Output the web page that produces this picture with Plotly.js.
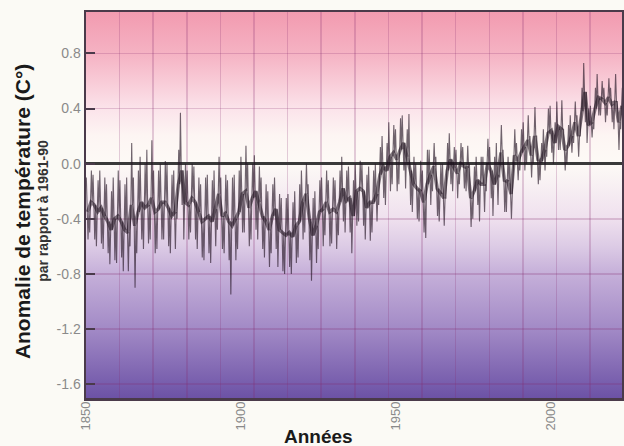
<!DOCTYPE html>
<html><head><meta charset="utf-8">
<script src="https://cdn.plot.ly/plotly-3.0.1.min.js"></script>
<style>body{margin:0;background:#fbfaf5}</style>
</head><body><div id="chart" style="width:624px;height:446px"></div>
<script>
const years = [];
for (let y = 1850; y <= 2009; y++) years.push(y);

// upper spikes per year (°C)
const hi = [
-0.10,-0.05,-0.08,-0.12,-0.05,-0.10,-0.15,-0.20,-0.10,-0.05,
-0.12,-0.15,-0.10,0.15,-0.10,-0.05,0.05,0.00,0.10,0.17,
-0.05,-0.05,0.00,0.02,0.00,-0.08,-0.05,0.10,0.37,0.00,
-0.05,0.00,-0.02,-0.10,-0.15,-0.10,-0.08,-0.12,-0.05,0.05,
-0.10,-0.08,-0.12,-0.10,-0.08,-0.05,0.05,0.13,0.00,0.00,
0.06,-0.02,-0.10,-0.15,-0.20,-0.15,-0.10,-0.22,-0.25,-0.25,
-0.22,-0.28,-0.20,-0.15,-0.05,0.00,-0.15,-0.25,-0.20,-0.12,
-0.10,-0.05,-0.12,-0.10,-0.12,-0.05,0.05,-0.05,-0.02,-0.12,
0.00,0.02,0.00,-0.08,-0.02,-0.05,0.00,0.12,0.20,0.15,
0.30,0.28,0.25,0.33,0.35,0.25,0.36,0.05,0.00,0.02,
-0.05,0.10,0.10,0.15,0.05,0.00,0.00,0.15,0.22,0.12,
0.10,0.15,0.12,0.13,0.00,-0.02,0.05,0.05,0.05,0.18,
0.12,0.05,0.15,0.28,0.10,0.05,0.00,0.25,0.15,0.25,
0.30,0.35,0.20,0.41,0.20,0.15,0.25,0.40,0.42,0.30,
0.45,0.46,0.25,0.28,0.35,0.45,0.35,0.55,0.73,0.40,
0.42,0.55,0.65,0.60,0.55,0.62,0.55,0.65,0.45,0.55];

// lower spikes per year (°C)
const lo = [
-0.55,-0.50,-0.55,-0.60,-0.58,-0.62,-0.65,-0.73,-0.70,-0.72,
-0.68,-0.78,-0.78,-0.60,-0.90,-0.65,-0.55,-0.62,-0.58,-0.55,
-0.65,-0.62,-0.55,-0.55,-0.60,-0.65,-0.62,-0.40,-0.30,-0.55,
-0.55,-0.50,-0.55,-0.62,-0.68,-0.70,-0.65,-0.72,-0.60,-0.48,
-0.62,-0.65,-0.70,-0.95,-0.70,-0.62,-0.50,-0.50,-0.60,-0.55,
-0.48,-0.55,-0.62,-0.68,-0.75,-0.65,-0.62,-0.75,-0.78,-0.80,
-0.75,-0.80,-0.72,-0.68,-0.55,-0.50,-0.70,-0.85,-0.72,-0.62,
-0.60,-0.52,-0.60,-0.58,-0.62,-0.52,-0.42,-0.50,-0.50,-0.65,
-0.45,-0.42,-0.45,-0.55,-0.56,-0.50,-0.42,-0.30,-0.25,-0.30,
-0.20,-0.15,-0.20,-0.15,-0.05,-0.18,-0.30,-0.35,-0.40,-0.42,
-0.50,-0.54,-0.30,-0.20,-0.38,-0.42,-0.45,-0.25,-0.15,-0.20,
-0.25,-0.15,-0.18,-0.20,-0.46,-0.40,-0.30,-0.42,-0.35,-0.20,
-0.25,-0.38,-0.30,-0.10,-0.35,-0.35,-0.40,-0.10,-0.12,-0.05,
-0.05,0.00,-0.10,0.00,-0.15,-0.12,-0.05,0.05,0.08,0.00,
0.10,0.10,-0.05,0.00,0.08,0.15,0.05,0.20,0.30,0.15,
0.19,0.25,0.35,0.35,0.30,0.35,0.30,0.25,0.10,0.25];

// dense core of the monthly curve, per year (°C)
const core = [
-0.35,-0.28,-0.30,-0.35,-0.32,-0.38,-0.42,-0.48,-0.40,-0.38,
-0.42,-0.48,-0.50,-0.30,-0.45,-0.35,-0.28,-0.32,-0.30,-0.25,
-0.35,-0.33,-0.28,-0.28,-0.32,-0.38,-0.35,-0.15,-0.05,-0.28,
-0.30,-0.25,-0.28,-0.35,-0.42,-0.40,-0.38,-0.42,-0.33,-0.22,
-0.38,-0.36,-0.42,-0.45,-0.40,-0.35,-0.22,-0.20,-0.32,-0.25,
-0.20,-0.28,-0.38,-0.42,-0.48,-0.38,-0.33,-0.48,-0.50,-0.52,
-0.50,-0.53,-0.45,-0.42,-0.28,-0.22,-0.40,-0.52,-0.45,-0.35,
-0.33,-0.28,-0.35,-0.33,-0.35,-0.28,-0.18,-0.27,-0.25,-0.38,
-0.20,-0.18,-0.20,-0.32,-0.28,-0.28,-0.22,-0.08,-0.02,-0.05,
0.05,0.08,0.03,0.10,0.15,0.05,-0.05,-0.15,-0.18,-0.20,
-0.28,-0.15,-0.08,-0.02,-0.18,-0.22,-0.25,-0.05,0.03,-0.03,
-0.07,0.00,-0.02,-0.03,-0.25,-0.20,-0.12,-0.15,-0.15,0.00,
-0.05,-0.15,-0.08,0.08,-0.12,-0.13,-0.22,0.06,0.02,0.08,
0.12,0.17,0.06,0.20,0.03,0.02,0.10,0.22,0.24,0.15,
0.27,0.25,0.10,0.13,0.20,0.30,0.20,0.38,0.52,0.28,
0.30,0.40,0.48,0.47,0.44,0.48,0.43,0.45,0.30,0.42];

const yTicks = [0.8, 0.4, 0.0, -0.4, -0.8, -1.2, -1.6];
const yTickText = ['0.8', '0.4', '0.0', '-0.4', '-0.8', '-1.2', '-1.6'];
const xLabels = [1850, 1900, 1950, 2000];

// monthly-like trace: spike up, back to core, spike down, back to core
const zx = [], zy = [];
years.forEach((y, i) => {
  zx.push(y + 0.1, y + 0.35, y + 0.6, y + 0.85);
  if (i % 2 === 0) zy.push(hi[i], core[i], lo[i], core[i]);
  else zy.push(lo[i], core[i], hi[i], core[i]);
});
const cx = years.map(y => y + 0.5);

const svg = `<svg xmlns="http://www.w3.org/2000/svg" width="100" height="100" preserveAspectRatio="none">
<defs><linearGradient id="g" x1="0" y1="0" x2="0" y2="1">
<stop offset="0" stop-color="#f29bb0"/>
<stop offset="0.107" stop-color="#f5b2c3"/>
<stop offset="0.25" stop-color="#fbe3ea"/>
<stop offset="0.32" stop-color="#fdf5f3"/>
<stop offset="0.393" stop-color="#fdfaf6"/>
<stop offset="0.536" stop-color="#efe0ee"/>
<stop offset="0.607" stop-color="#dccbe5"/>
<stop offset="0.679" stop-color="#c5afd9"/>
<stop offset="0.821" stop-color="#a28ac6"/>
<stop offset="1" stop-color="#6c52a6"/>
</linearGradient></defs>
<rect width="100" height="100" fill="url(#g)"/></svg>`;
const bgImg = 'data:image/svg+xml;charset=utf-8,' + encodeURIComponent(svg);

const traces = [
  {x: zx, y: zy, type: 'scatter', mode: 'lines',
   line: {color: 'rgba(35,20,35,0.65)', width: 1.1}, hoverinfo: 'skip', showlegend: false},
  {x: cx, y: core, type: 'scatter', mode: 'lines',
   line: {color: 'rgba(25,12,25,0.55)', width: 3.5}, hoverinfo: 'skip', showlegend: false},
  {x: [], y: [], xaxis: 'x2', type: 'scatter', showlegend: false}
];

const gridCol = 'rgba(130,40,110,0.22)';
const titleFont = {family: 'Liberation Sans, Arial, sans-serif', color: '#1a1a1a'};
const layout = {
  width: 624, height: 446,
  margin: {l: 86, r: 2, t: 12, b: 48},
  paper_bgcolor: '#fbfaf5',
  plot_bgcolor: 'rgba(0,0,0,0)',
  font: {family: 'Liberation Sans, Arial, sans-serif'},
  images: [{source: bgImg, xref: 'paper', yref: 'paper', x: 0, y: 1,
            sizex: 1, sizey: 1, sizing: 'stretch', layer: 'below', xanchor: 'left', yanchor: 'top'}],
  xaxis: {range: [1850, 2009.5], tick0: 1850, dtick: 10, showticklabels: false,
          ticks: '', showgrid: true, gridcolor: gridCol, gridwidth: 1.5, zeroline: false,
          showline: true, linecolor: '#4a3a4a', linewidth: 2.5, mirror: true},
  xaxis2: {overlaying: 'x', anchor: 'y', side: 'bottom', range: [1850, 2022.9],
           tickvals: xLabels, ticktext: xLabels.map(String), tickangle: -90,
           tickfont: {size: 13, color: '#8a8a8a'}, showgrid: false, zeroline: false,
           ticks: '', showline: false},
  yaxis: {range: [-1.7, 1.1], tickvals: yTicks, ticktext: yTickText,
          tickfont: {size: 14, color: '#8a8a8a'}, ticks: 'inside', ticklen: 9,
          tickcolor: '#4a3a4a', tickwidth: 2,
          showgrid: true, gridcolor: gridCol, gridwidth: 1.5,
          zeroline: true, zerolinecolor: '#3a3a3a', zerolinewidth: 2.5,
          showline: true, linecolor: '#4a3a4a', linewidth: 2.5, mirror: true},
  annotations: [
    {text: '<b>Anomalie de température (C°)</b>', textangle: -90, showarrow: false,
     xref: 'paper', yref: 'paper', x: -0.1195, y: 0.484, xanchor: 'center', yanchor: 'middle',
     font: Object.assign({size: 21}, titleFont)},
    {text: '<b>par rapport à 1961-90</b>', textangle: -90, showarrow: false,
     xref: 'paper', yref: 'paper', x: -0.079, y: 0.484, xanchor: 'center', yanchor: 'middle',
     font: {family: 'Liberation Sans, Arial, sans-serif', size: 14, color: '#333'}},
    {text: '<b>Années</b>', showarrow: false,
     xref: 'paper', yref: 'paper', x: 0.433, y: -0.101, xanchor: 'center', yanchor: 'middle',
     font: Object.assign({size: 19}, titleFont)}
  ]
};

Plotly.newPlot('chart', traces, layout, {displayModeBar: false, staticPlot: true});
</script></body></html>
